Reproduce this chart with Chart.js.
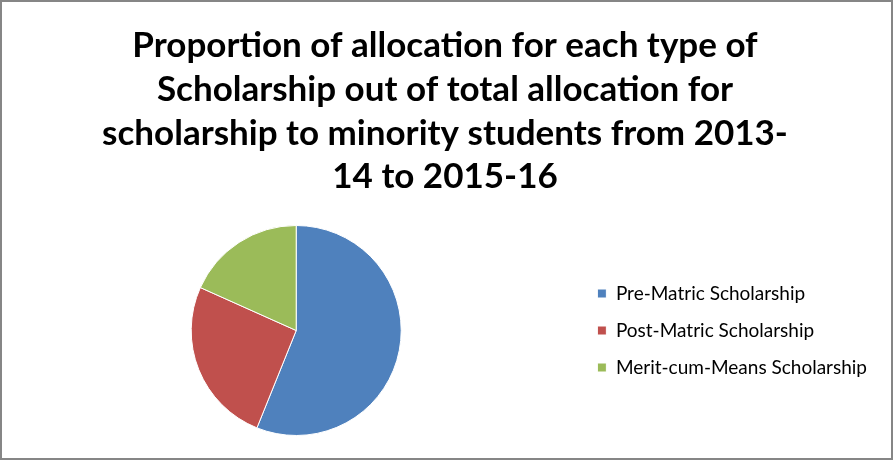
<!DOCTYPE html>
<html>
<head>
<meta charset="utf-8">
<script src="https://cdn.jsdelivr.net/npm/chart.js@4"></script>
<style>
  html, body { margin: 0; padding: 0; background: #fff; }
  #frame {
    width: 893px; height: 460px; box-sizing: border-box;
    border: 2px solid #868686; position: relative;
  }
  #frame canvas { display: block; }
</style>
</head>
<body>
<div id="frame"><canvas id="pieChart" width="889" height="456"></canvas></div>
<script>
// share of scholarship allocation, 2013-14 to 2015-16
const schemes = ["Pre-Matric Scholarship", "Post-Matric Scholarship", "Merit-cum-Means Scholarship"];
const shares = [56.1, 25.6, 18.3];
const sliceColors = ["#4F81BD", "#C0504D", "#9BBB59"];
const titleLines = [
    "Proportion of allocation for each type of",
    "Scholarship out of total allocation for",
    "scholarship to minority students from 2013-",
    "14 to 2015-16"
];

const ctx = document.getElementById("pieChart").getContext("2d");

new Chart(ctx, {
    type: "pie",
    data: {
        labels: schemes,
        datasets: [{
            data: shares,
            backgroundColor: sliceColors,
            borderColor: "#ffffff",
            borderWidth: 1
        }]
    },
    options: {
        responsive: false,
        animation: false,
        layout: {
            padding: { left: 11, right: 14, top: 0, bottom: 22 }
        },
        plugins: {
            title: {
                display: true,
                text: titleLines,
                color: "#000000",
                font: { family: "Lato", weight: "bold", size: 35, lineHeight: 1.25 },
                padding: { top: 22, bottom: 26 }
            },
            legend: {
                position: "right",
                fullSize: false,
                labels: {
                    color: "#000000",
                    font: { family: "Lato", size: 19 },
                    boxWidth: 9,
                    boxHeight: 9,
                    padding: 18
                }
            },
            tooltip: { enabled: false }
        }
    }
});
</script>
</body>
</html>
